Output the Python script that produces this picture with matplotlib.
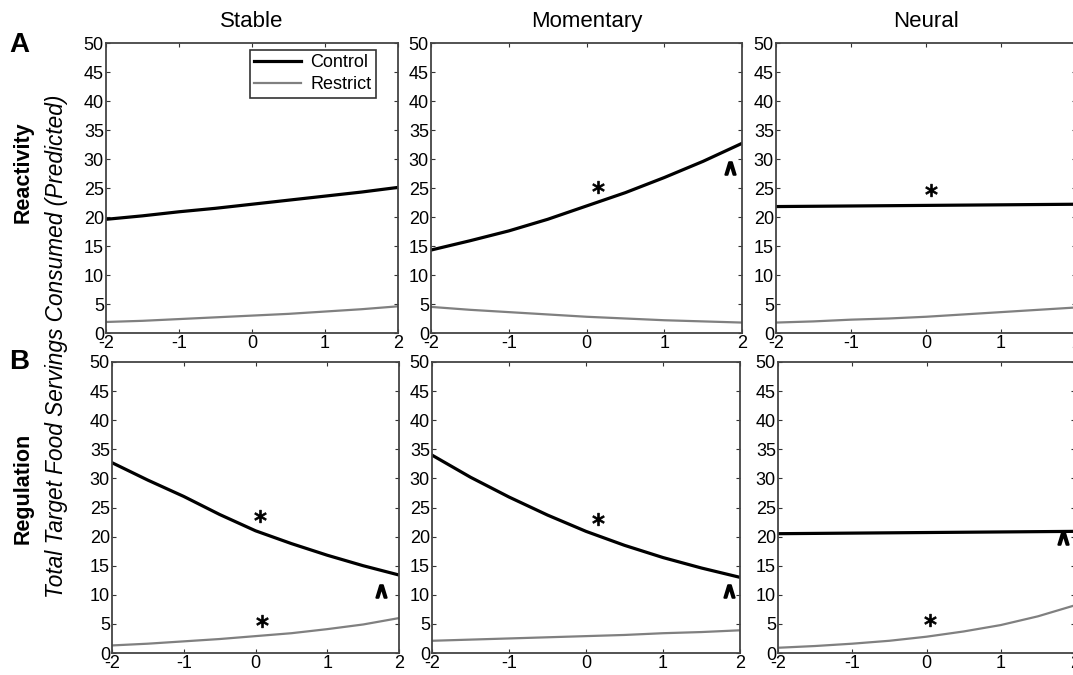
import matplotlib
matplotlib.use("Agg")
import matplotlib.pyplot as plt
import numpy as np

plt.rcParams['font.family'] = ['Liberation Sans', 'DejaVu Sans']
plt.rcParams['axes.unicode_minus'] = False

# data (every half unit)
x_vals = [-2, -1.5, -1, -0.5, 0, 0.5, 1, 1.5, 2]
col_titles = ["Stable", "Momentary", "Neural"]
row_labels = ["Reactivity", "Regulation"]
panel_letters = ["A", "B"]

control_reactivity = [[19.6, 20.2, 20.9, 21.5, 22.2, 22.9, 23.6, 24.3, 25.1],
                      [14.3, 15.9, 17.6, 19.6, 21.9, 24.2, 26.8, 29.6, 32.7],
                      [21.8, 21.85, 21.9, 21.95, 22.0, 22.05, 22.1, 22.15, 22.2]]
restrict_reactivity = [[1.9, 2.1, 2.4, 2.7, 3.0, 3.3, 3.7, 4.1, 4.6],
                       [4.5, 4.0, 3.6, 3.2, 2.8, 2.5, 2.2, 2.0, 1.8],
                       [1.8, 2.0, 2.3, 2.5, 2.8, 3.2, 3.6, 4.0, 4.4]]
control_regulation = [[32.7, 29.7, 26.9, 23.8, 21.0, 18.8, 16.8, 15.0, 13.4],
                      [34.0, 30.2, 26.8, 23.7, 20.9, 18.5, 16.4, 14.6, 13.0],
                      [20.5, 20.55, 20.6, 20.65, 20.7, 20.75, 20.8, 20.85, 20.9]]
restrict_regulation = [[1.3, 1.6, 2.0, 2.4, 2.9, 3.4, 4.1, 4.9, 6.0],
                       [2.1, 2.3, 2.5, 2.7, 2.9, 3.1, 3.4, 3.6, 3.9],
                       [0.9, 1.2, 1.6, 2.1, 2.8, 3.7, 4.8, 6.3, 8.2]]

# significance marks: (row, col, x, y)
star_marks = [(0, 1, 0.15, 25.2), (0, 2, 0.07, 24.7),
              (1, 0, 0.06, 23.5), (1, 0, 0.09, 5.5),
              (1, 1, 0.16, 23.0), (1, 2, 0.05, 5.7)]
caret_marks = [(0, 1, 1.85, 28.4), (1, 0, 1.75, 10.7),
               (1, 1, 1.86, 10.7), (1, 2, 1.84, 19.7)]

control = [control_reactivity, control_regulation]
restrict = [restrict_reactivity, restrict_regulation]

W, H = 1073, 675
fig = plt.figure(figsize=(W / 100, H / 100), dpi=100)

# axes boxes in pixels: (left, right) per panel, (top, bottom) per row
col_px = [[(106, 398), (431, 742), (776, 1076)],
          [(112, 399), (432, 740), (778, 1075)]]
row_px = [(43, 333), (362, 653)]

axes = {}
for r in range(2):
    for c in range(3):
        l, rr = col_px[r][c]
        t, b = row_px[r]
        ax = fig.add_axes([l / W, 1 - b / H, (rr - l) / W, (b - t) / H])
        axes[(r, c)] = ax
        ax.plot(x_vals, control[r][c], color='black', lw=2.3, label='Control')
        ax.plot(x_vals, restrict[r][c], color='#808080', lw=1.6, label='Restrict')
        ax.set_xlim(-2, 2)
        ax.set_ylim(0, 50)
        ax.set_xticks([-2, -1, 0, 1, 2])
        ax.set_yticks(np.arange(0, 51, 5))
        ax.tick_params(direction='in', length=3, width=0.8, top=True, right=True,
                       labelsize=13, pad=1.5, colors='#333333', labelcolor='black')
        for sp in ax.spines.values():
            sp.set_color('#444444')
            sp.set_linewidth(1.3)
        if r == 0:
            ax.text(0.5, 1.075, col_titles[c], transform=ax.transAxes,
                    ha='center', va='center', fontsize=16)

for r, c, x, y in star_marks:
    axes[(r, c)].plot(x, y, marker=r'$\ast$', color='black', ms=9, mew=0.6, ls='none')
for r, c, x, y in caret_marks:
    axes[(r, c)].plot(x, y, marker=r'$\wedge$', color='black', ms=9, mew=1.5, ls='none')

leg = axes[(0, 0)].legend(loc='upper right', bbox_to_anchor=(0.925, 0.976), borderaxespad=0,
                          fontsize=13, frameon=True, fancybox=False, handlelength=2.6,
                          handletextpad=0.5, borderpad=0.25, labelspacing=0.25)
leg.get_frame().set_edgecolor('black')
leg.get_frame().set_linewidth(1.2)

# row / panel labels
fig.text(19 / W, 1 - 45 / H, panel_letters[0], fontsize=20, fontweight='bold', ha='center', va='center')
fig.text(19 / W, 1 - 362 / H, panel_letters[1], fontsize=20, fontweight='bold', ha='center', va='center')
fig.text(23 / W, 1 - 172 / H, row_labels[0], rotation=90, fontsize=15.5, fontweight='bold',
         ha='center', va='center')
fig.text(23 / W, 1 - 488 / H, row_labels[1], rotation=90, fontsize=15.5, fontweight='bold',
         ha='center', va='center')
fig.text(57 / W, 1 - 346 / H, "Total Target Food Servings Consumed (Predicted)", rotation=90,
         fontsize=16.3, fontstyle='italic', ha='center', va='center')

fig.savefig("out.png", dpi=100)
